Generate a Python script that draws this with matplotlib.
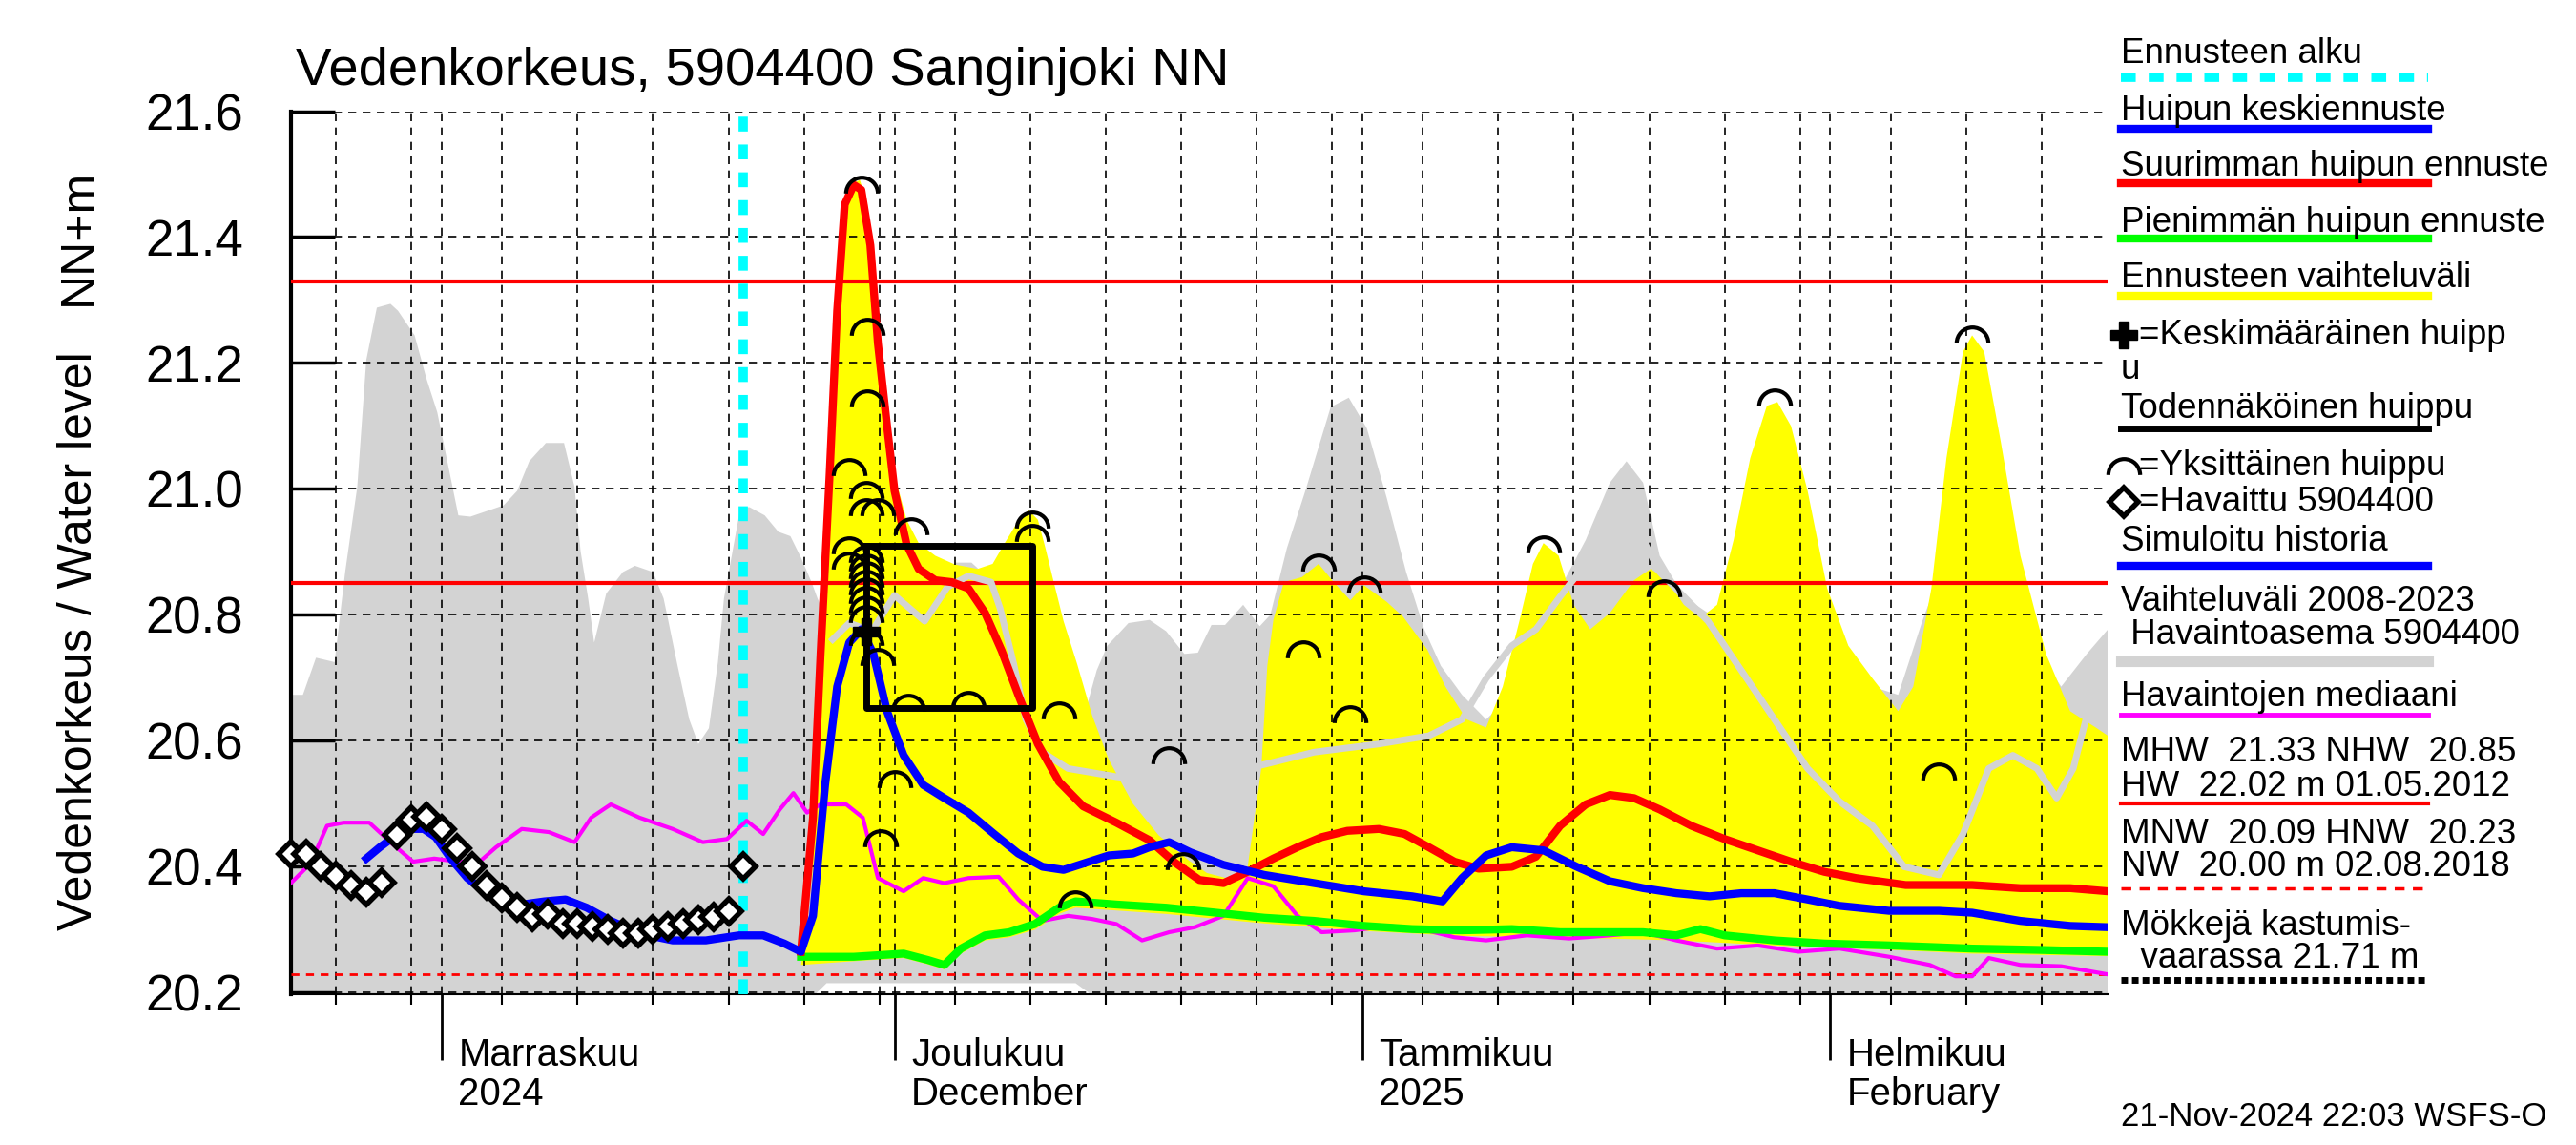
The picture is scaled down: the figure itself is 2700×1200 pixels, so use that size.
import matplotlib
matplotlib.use("Agg")
import matplotlib.pyplot as plt
import matplotlib.dates as mdates
import matplotlib.transforms as mtransforms
from matplotlib.lines import Line2D
from matplotlib.path import Path
from datetime import datetime
import numpy as np

plt.rcParams['font.family'] = ['Liberation Sans', 'DejaVu Sans']

# time axis: days counted from 22.10.2024 00:00
START = datetime(2024, 10, 22)
END_DAY = 120.4
FORECAST_DAY = 30.0

months = [datetime(2024, 11, 1), datetime(2024, 12, 1), datetime(2025, 1, 1), datetime(2025, 2, 1)]
month_labels = ["Marraskuu\n2024", "Joulukuu\nDecember", "Tammikuu\n2025", "Helmikuu\nFebruary"]

# reference levels
MHW = 21.33
NHW = 20.85
HNW = 20.23

# Vaihteluväli 2008-2023 (grey band)
band_hi_days = [0, 0.8, 1.67, 2.9, 3.6, 4.4, 5.0, 5.7, 6.6, 7.1, 8.2, 9.0, 9.7, 11.1, 11.9, 14.1, 15.0, 15.8,
                16.9, 18.1, 18.8, 19.2, 19.7, 20.1, 20.9, 22.0, 22.8, 24.0, 24.7, 25.0, 25.6, 26.4, 27.0, 27.7,
                28.3, 28.7, 29.8, 30.4, 31.4, 32.3, 33.1, 33.8, 34.5, 34.9, 35.2, 35.7, 36.2, 37.3, 40.0, 43.5,
                44.0, 45.1, 46.3, 47.1, 48.7, 50.4, 52.5, 53.4, 54.1, 55.5, 56.9, 58.0, 59.2, 60.1, 61.0, 61.9,
                63.1, 64.2, 64.9, 66.0, 67.3, 68.9, 70.1, 71.3, 72.6, 73.9, 75.1, 76.2, 77.6, 79.2, 80.9, 82.5,
                84.1, 85.8, 87.4, 88.5, 89.6, 90.7, 92.3, 93.9, 96.1, 98.3, 100.5, 102.6, 104.8, 106.5, 108.1,
                109.7, 111.4, 113.0, 115.2, 117.3, 119.0, 120.4]
band_hi = [20.673, 20.673, 20.732, 20.725, 20.868, 21.003, 21.205, 21.288, 21.294, 21.283, 21.244, 21.174,
           21.122, 20.958, 20.956, 20.974, 20.997, 21.044, 21.073, 21.073, 21.003, 20.901, 20.826, 20.756,
           20.834, 20.868, 20.878, 20.868, 20.826, 20.792, 20.722, 20.634, 20.595, 20.62, 20.725, 20.826,
           20.971, 20.971, 20.958, 20.932, 20.925, 20.891, 20.852, 20.826, 20.81, 20.738, 20.686, 20.738,
           20.816, 20.852, 20.883, 20.883, 20.857, 20.764, 20.66, 20.595, 20.634, 20.712, 20.751, 20.787,
           20.792, 20.774, 20.738, 20.74, 20.784, 20.784, 20.816, 20.782, 20.8, 20.906, 21.003, 21.13,
           21.145, 21.096, 20.987, 20.868, 20.777, 20.719, 20.673, 20.634, 20.673, 20.751, 20.842, 20.919,
           21.01, 21.044, 21.01, 20.894, 20.829, 20.803, 20.842, 20.881, 20.842, 20.751, 20.686, 20.673,
           20.79, 20.894, 20.919, 20.842, 20.764, 20.686, 20.738, 20.777]
band_lo_days = [0, 34.0, 35.5, 52.0, 54.0, 120.4]
band_lo = [20.18, 20.18, 20.215, 20.215, 20.18, 20.18]

# Ennusteen vaihteluväli (yellow band)
fc_hi_days = [33.8, 34.4, 34.9, 35.4, 36.0, 36.5, 37.1, 37.7, 38.2, 38.7, 39.3, 40.0, 40.8, 41.6, 42.7, 44.0,
              45.5, 46.5, 47.3, 47.96, 48.5, 48.9, 49.5, 50.0, 50.5, 51.2, 52.1, 53.1, 54.2, 55.8, 57.5, 58.5,
              59.5, 60.7, 62.3, 63.4, 64.3, 64.7, 65.1, 65.8, 67.0, 68.1, 69.1, 70.2, 71.1, 72.6, 73.7, 75.3,
              76.5, 77.9, 79.2, 80.3, 81.4, 82.3, 83.0, 84.0, 85.0, 86.1, 87.4, 89.0, 90.1, 91.2, 92.3, 93.4,
              94.5, 95.6, 96.7, 97.8, 98.5, 99.4, 100.5, 101.8, 103.2, 104.8, 106.5, 107.5, 108.7, 109.7,
              110.8, 111.4, 112.2, 113.3, 114.6, 116.3, 117.9, 119.6, 120.4]
fc_hi = [20.244, 20.322, 20.53, 20.868, 21.205, 21.413, 21.483, 21.491, 21.452, 21.322, 21.166, 21.023,
         20.951, 20.914, 20.894, 20.88, 20.873, 20.881, 20.914, 20.94, 20.958, 20.966, 20.951, 20.906,
         20.857, 20.79, 20.722, 20.64, 20.57, 20.5, 20.45, 20.43, 20.41, 20.39, 20.38, 20.40, 20.556, 20.719,
         20.792, 20.852, 20.86, 20.881, 20.852, 20.823, 20.847, 20.821, 20.797, 20.745, 20.686, 20.634,
         20.621, 20.686, 20.79, 20.881, 20.914, 20.894, 20.816, 20.777, 20.803, 20.855, 20.873, 20.855,
         20.816, 20.795, 20.816, 20.919, 21.049, 21.132, 21.138, 21.1, 20.997, 20.842, 20.751, 20.699,
         20.647, 20.686, 20.842, 21.049, 21.218, 21.244, 21.218, 21.075, 20.894, 20.738, 20.647, 20.621,
         20.608]
fc_lo_days = [33.8, 37.3, 40.6, 42.2, 43.3, 44.4, 46.0, 47.6, 49.3, 50.9, 52.0, 58.0, 64.5, 71.1, 77.6,
              84.1, 91.8, 98.3, 105.9, 111.4, 120.4]
fc_lo = [20.244, 20.25, 20.255, 20.245, 20.237, 20.262, 20.283, 20.288, 20.3, 20.325, 20.335, 20.325,
         20.31, 20.298, 20.29, 20.288, 20.283, 20.275, 20.268, 20.262, 20.258]

# light grey line
grey_days = [35.9, 37.0, 38.5, 40.0, 42.0, 43.5, 44.9, 46.4, 47.0, 47.9, 48.7, 49.8, 51.5, 54.7, 59.1, 63.4,
             67.8, 72.1, 75.4, 77.6, 79.2, 80.9, 82.5, 84.1, 85.8, 87.4, 88.5, 89.6, 90.7, 92.3, 93.9, 96.1,
             98.3, 100.5, 102.6, 104.8, 106.9, 109.2, 110.8, 112.5, 114.1, 115.7, 117.0, 118.1, 119.5, 120.4]
grey_vals = [20.761, 20.787, 20.774, 20.831, 20.79, 20.844, 20.862, 20.852, 20.81, 20.722, 20.634, 20.582,
             20.556, 20.543, 20.53, 20.556, 20.582, 20.595, 20.608, 20.634, 20.699, 20.751, 20.777, 20.829,
             20.881, 20.945, 20.984, 20.919, 20.868, 20.829, 20.79, 20.712, 20.634, 20.556, 20.504, 20.465,
             20.4, 20.387, 20.452, 20.556, 20.577, 20.556, 20.509, 20.556, 20.686, 20.764]

# Havaintojen mediaani
median_days = [0, 1.3, 2.4, 3.5, 5.2, 6.6, 8.1, 9.5, 11.1, 12.5, 13.6, 15.3, 17.1, 18.8, 19.9, 21.2, 23.1,
               25.3, 27.3, 28.9, 30.2, 31.3, 32.4, 33.3, 34.2, 35.1, 36.8, 37.9, 38.9, 40.6, 41.9, 43.3, 44.9,
               46.9, 48.2, 49.8, 51.5, 53.1, 54.7, 56.4, 58.2, 59.9, 61.8, 63.4, 65.1, 66.7, 68.3, 70.5, 72.7,
               74.9, 77.1, 79.2, 81.9, 84.7, 87.4, 89.6, 91.8, 94.5, 97.2, 99.9, 102.6, 105.9, 108.6, 110.3,
               111.4, 112.5, 114.6, 117.3, 120.4]
median_vals = [20.374, 20.405, 20.465, 20.47, 20.47, 20.439, 20.408, 20.413, 20.408, 20.408, 20.431, 20.46,
               20.455, 20.439, 20.478, 20.499, 20.478, 20.46, 20.439, 20.444, 20.473, 20.452, 20.491, 20.517,
               20.486, 20.499, 20.499, 20.478, 20.382, 20.361, 20.382, 20.374, 20.382, 20.384, 20.348, 20.314,
               20.322, 20.317, 20.309, 20.283, 20.296, 20.304, 20.322, 20.382, 20.369, 20.322, 20.296, 20.299,
               20.306, 20.301, 20.288, 20.283, 20.291, 20.286, 20.291, 20.296, 20.283, 20.27, 20.275, 20.265,
               20.27, 20.257, 20.244, 20.226, 20.226, 20.255, 20.244, 20.242, 20.229]

# Pienimmän huipun ennuste
low_days = [33.8, 37.3, 40.6, 42.2, 43.3, 44.4, 46.0, 47.6, 49.3, 50.9, 52.0, 54.7, 58.0, 61.3, 64.5, 67.8,
            71.1, 74.3, 77.6, 80.9, 84.1, 87.4, 89.6, 91.8, 93.4, 95.0, 98.3, 101.6, 105.9, 111.4, 115.7, 120.4]
low_vals = [20.257, 20.257, 20.262, 20.252, 20.244, 20.27, 20.291, 20.296, 20.309, 20.335, 20.345, 20.34,
            20.335, 20.327, 20.319, 20.314, 20.306, 20.301, 20.299, 20.301, 20.296, 20.296, 20.296, 20.291,
            20.301, 20.291, 20.283, 20.278, 20.275, 20.27, 20.268, 20.265]

# Suurimman huipun ennuste
high_days = [33.8, 34.6, 35.1, 35.7, 36.2, 36.7, 37.3, 37.8, 38.4, 38.9, 39.5, 40.0, 40.8, 41.6, 42.7, 43.8,
             44.9, 46.0, 47.1, 48.2, 49.5, 50.9, 52.5, 54.7, 56.9, 58.5, 60.2, 61.8, 63.4, 65.1, 66.7, 68.3,
             70.0, 72.1, 73.8, 75.4, 77.1, 78.7, 80.9, 82.5, 84.1, 85.8, 87.4, 89.0, 90.7, 92.8, 95.0, 97.2,
             99.4, 101.6, 103.7, 107.0, 111.4, 114.6, 117.9, 120.4]
high_vals = [20.265, 20.478, 20.738, 21.023, 21.283, 21.452, 21.483, 21.475, 21.387, 21.231, 21.101, 20.997,
             20.912, 20.873, 20.855, 20.852, 20.842, 20.803, 20.743, 20.673, 20.595, 20.535, 20.496, 20.47,
             20.442, 20.408, 20.379, 20.374, 20.392, 20.413, 20.431, 20.447, 20.457, 20.46, 20.452, 20.431,
             20.408, 20.397, 20.4, 20.416, 20.465, 20.499, 20.514, 20.509, 20.491, 20.465, 20.444, 20.426,
             20.408, 20.392, 20.382, 20.371, 20.371, 20.366, 20.366, 20.361]

# Simuloitu historia + Huipun keskiennuste
mean_days = [5.0, 5.9, 6.8, 7.9, 8.8, 9.6, 10.6, 11.7, 12.8, 13.9, 15.3, 16.8, 18.2, 19.6, 21.2, 23.1, 25.3,
             27.5, 29.7, 31.3, 32.7, 33.8, 34.6, 35.4, 36.2, 37.0, 37.8, 38.6, 39.5, 40.6, 41.9, 43.3, 44.9,
             46.6, 48.2, 49.8, 51.2, 52.5, 54.2, 55.8, 56.9, 58.2, 59.6, 61.8, 64.5, 67.8, 71.1, 74.3, 76.3,
             77.6, 79.2, 80.9, 83.0, 85.2, 87.4, 89.6, 91.8, 94.0, 96.1, 98.3, 100.5, 102.6, 105.9, 109.2,
             111.4, 114.6, 117.9, 120.4]
mean_vals = [20.413, 20.431, 20.447, 20.46, 20.46, 20.447, 20.413, 20.382, 20.361, 20.345, 20.34, 20.345,
             20.348, 20.335, 20.314, 20.294, 20.283, 20.283, 20.291, 20.291, 20.278, 20.265, 20.322, 20.53,
             20.686, 20.756, 20.777, 20.738, 20.647, 20.577, 20.53, 20.509, 20.486, 20.452, 20.421, 20.4,
             20.395, 20.405, 20.418, 20.421, 20.431, 20.439, 20.423, 20.403, 20.387, 20.374, 20.361, 20.353,
             20.345, 20.382, 20.418, 20.431, 20.426, 20.4, 20.377, 20.366, 20.358, 20.353, 20.358, 20.358,
             20.348, 20.338, 20.33, 20.33, 20.327, 20.314, 20.306, 20.304]

# Havaittu 5904400 (daily observations)
obs_days = list(range(31))
obs_vals = [20.42, 20.42, 20.40, 20.385, 20.37, 20.36, 20.375, 20.45, 20.475, 20.48, 20.46, 20.43, 20.40,
            20.37, 20.35, 20.335, 20.32, 20.325, 20.31, 20.31, 20.305, 20.30, 20.295, 20.295, 20.30, 20.305,
            20.31, 20.315, 20.32, 20.33, 20.40]

# Yksittäinen huippu
peak_days = [37.8, 38.2, 38.2, 37.0, 38.1, 38.1, 38.9, 41.1, 37.0, 37.0, 38.1, 38.1, 38.1, 38.1, 38.1, 38.1,
             38.1, 38.1, 38.1, 38.9, 39.1, 40.0, 40.9, 44.9, 49.1, 49.1, 50.9, 52.0, 58.2, 59.1, 67.1, 68.1,
             70.2, 71.1, 83.0, 91.0, 98.3, 109.2, 111.4]
peak_vals = [21.483, 21.257, 21.143, 21.034, 20.997, 20.971, 20.971, 20.94, 20.909, 20.886, 20.896, 20.883,
             20.87, 20.857, 20.844, 20.831, 20.816, 20.8, 20.764, 20.732, 20.444, 20.538, 20.66, 20.665,
             20.951, 20.93, 20.647, 20.348, 20.577, 20.408, 20.745, 20.883, 20.642, 20.847, 20.912, 20.842,
             21.145, 20.551, 21.244]

# Keskimääräinen huippu and Todennäköinen huippu
mean_peak_day = 38.1
mean_peak_val = 20.774
prob_start, prob_end = 38.1, 49.1
prob_low, prob_high = 20.652, 20.909


def tnum(days):
    return mdates.date2num(START) + np.asarray(days, dtype=float)


arc = Path.arc(0, 180)
arc_marker = Path(arc.vertices - np.array([0.0, 0.5]), arc.codes)

fig = plt.figure(figsize=(27, 12), dpi=100)
ax = fig.add_axes([0.1129, 0.1314, 0.7054, 0.7715])

# grey band and yellow band
ax.fill(np.concatenate([tnum(band_hi_days), tnum(band_lo_days)[::-1]]),
        np.concatenate([band_hi, band_lo[::-1]]), color="#d3d3d3", lw=0, zorder=1)
ax.fill(np.concatenate([tnum(fc_hi_days), tnum(fc_lo_days)[::-1]]),
        np.concatenate([fc_hi, fc_lo[::-1]]), color="#ffff00", lw=0, zorder=1.5)

ax.axhline(MHW, color="red", lw=3, zorder=3)
ax.axhline(NHW, color="red", lw=3, zorder=3)
ax.axhline(HNW, color="red", lw=2, dashes=(3, 2.5), zorder=3)
ax.axvline(tnum(FORECAST_DAY), color="#00ffff", lw=7, dashes=(1.6, 1.4), zorder=3.2)

ax.plot(tnum(grey_days), grey_vals, color="#d3d3d3", lw=5, zorder=3.5)
ax.plot(tnum(median_days), median_vals, color="#ff00ff", lw=3, zorder=4)
ax.plot(tnum(low_days), low_vals, color="#00ff00", lw=6, zorder=5)
ax.plot(tnum(high_days), high_vals, color="red", lw=6, zorder=6)
ax.plot(tnum(mean_days), mean_vals, color="blue", lw=6, zorder=7)

ax.plot(tnum([prob_start, prob_end, prob_end, prob_start, prob_start]),
        [prob_high, prob_high, prob_low, prob_low, prob_high], color="black", lw=5, zorder=8)
ax.plot(tnum(peak_days), peak_vals, ls="none", marker=arc_marker, ms=24, mfc="none",
        mec="black", mew=3, zorder=9)
ax.plot(tnum([mean_peak_day]), [mean_peak_val], ls="none", marker="P", ms=20, color="black", zorder=9)
ax.plot(tnum(obs_days), obs_vals, ls="none", marker="D", ms=13, mfc="white", mec="black", mew=4,
        zorder=9, clip_on=False)

ax.set_xlim(tnum(0), tnum(END_DAY))
ax.set_ylim(20.197, 21.6)

ax.spines["top"].set_visible(False)
ax.spines["right"].set_visible(False)
ax.spines["left"].set_linewidth(3)
ax.spines["bottom"].set_linewidth(1.5)

ax.set_yticks(np.arange(20.2, 21.61, 0.2))
ax.yaxis.set_major_formatter(matplotlib.ticker.FormatStrFormatter("%.1f"))
ax.tick_params(axis="y", direction="in", length=33, width=2.5, labelsize=38, pad=36)

ax.xaxis.set_major_locator(mdates.MonthLocator())
ax.xaxis.set_minor_locator(mdates.DayLocator(bymonthday=[5, 10, 15, 20, 25, 30]))
ax.tick_params(axis="x", which="major", direction="out", length=50, width=2, labelbottom=False)
ax.tick_params(axis="x", which="minor", direction="out", length=8, width=1.5)
ax.set_axisbelow(False)
ax.grid(True, axis="x", which="both", color="black", lw=1.2, linestyle=(0, (5, 4)))
ax.grid(True, axis="y", which="major", color="black", lw=1.2, linestyle=(0, (5, 4)))

trans = mtransforms.blended_transform_factory(ax.transData, ax.transAxes)
for m, lab in zip(months, month_labels):
    ax.text(mdates.date2num(m) + 1.1, -0.048, lab, transform=trans, ha="left", va="top",
            fontsize=29, linespacing=1.12)

fig.text(0.1148, 0.9257, "Vedenkorkeus, 5904400 Sanginjoki NN", fontsize=40.5, va="baseline")
fig.text(0.0306, 0.44, "Vedenkorkeus / Water level", rotation=90, fontsize=36, ha="center", va="center")
fig.text(0.0306, 0.793, "NN+m", rotation=90, fontsize=36, ha="center", va="center")

# legend on the right
W, H = 1568.0, 700.0
lx0, lx1 = 1291 / W, 1478 / W
tx = 1291 / W
mx = 1293 / W
tx_m = 1302 / W


def ltext(y, s, x=tx, size=26.5):
    fig.text(x, 1 - y / H, s, fontsize=size, va="center", ha="left")


def lline(y, **kw):
    fig.add_artist(Line2D([lx0, lx1], [1 - y / H, 1 - y / H], transform=fig.transFigure, **kw))


ltext(33, "Ennusteen alku")
lline(47, color="#00ffff", lw=7, dashes=(1.6, 1.4))
ltext(68, "Huipun keskiennuste")
lline(79, color="blue", lw=6)
ltext(102, "Suurimman huipun ennuste")
lline(112, color="red", lw=6)
ltext(136, "Pienimmän huipun ennuste")
lline(146, color="#00ff00", lw=6)
ltext(170, "Ennusteen vaihteluväli")
lline(181, color="#ffff00", lw=6)
fig.add_artist(Line2D([mx], [1 - 205 / H], transform=fig.transFigure, marker="P", ms=20, color="black"))
ltext(205, "=Keskimääräinen huipp", x=tx_m)
ltext(226, "u")
ltext(250, "Todennäköinen huippu")
lline(262, color="black", lw=5)
fig.add_artist(Line2D([mx], [1 - 285 / H], transform=fig.transFigure, marker=arc_marker, ms=24,
                      mfc="none", mec="black", mew=3))
ltext(285, "=Yksittäinen huippu", x=tx_m)
fig.add_artist(Line2D([mx], [1 - 307 / H], transform=fig.transFigure, marker="D", ms=15,
                      mfc="white", mec="black", mew=4))
ltext(307, "=Havaittu 5904400", x=tx_m)
ltext(331, "Simuloitu historia")
lline(346, color="blue", lw=6)
ltext(368, "Vaihteluväli 2008-2023")
ltext(388, " Havaintoasema 5904400")
lline(404, color="#d3d3d3", lw=8)
ltext(426, "Havaintojen mediaani")
lline(437, color="#ff00ff", lw=3.5)
ltext(460, "MHW  21.33 NHW  20.85")
ltext(481, "HW  22.02 m 01.05.2012")
lline(491, color="red", lw=3)
ltext(510, "MNW  20.09 HNW  20.23")
ltext(530, "NW  20.00 m 02.08.2018")
lline(543, color="red", lw=2.5, dashes=(3, 2.5))
ltext(566, "Mökkejä kastumis-")
ltext(586, "  vaarassa 21.71 m")
lline(599, color="black", lw=5, dashes=(1, 0.6))
ltext(683, "21-Nov-2024 22:03 WSFS-O", size=25)

fig.savefig("out.png", dpi=100)
